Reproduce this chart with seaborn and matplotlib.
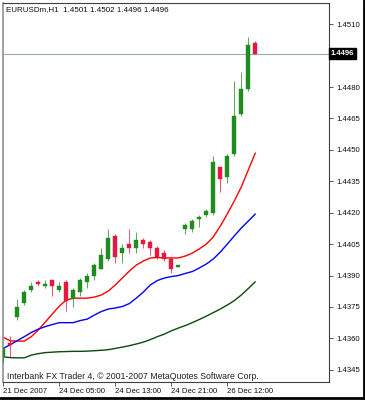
import numpy as np
import pandas as pd
import matplotlib
matplotlib.use("Agg")
import matplotlib.pyplot as plt
from matplotlib.lines import Line2D
import seaborn as sns

# ---- data (EURUSDm, H1) ----
opens = [1.4351, 1.4358, 1.4370, 1.4377, 1.4383, 1.4387, 1.4385, 1.4388, 1.4383, 1.4387,
         1.4379, 1.4382, 1.4387, 1.4390, 1.4393, 1.4398, 1.4409, 1.4401, 1.4405, 1.4403,
         1.4407, 1.4406, 1.4403, 1.4401, 1.4398, 1.4394, 1.4412, 1.4412, 1.4417, 1.4419,
         1.4420, 1.4442, 1.4437, 1.4448, 1.4467, 1.4479, 1.4501]
highs = [1.4356, 1.4361, 1.4379, 1.4383, 1.4387, 1.4388, 1.4388, 1.4388, 1.4387, 1.4388,
         1.4384, 1.4389, 1.4391, 1.4396, 1.4403, 1.4412, 1.4410, 1.4405, 1.4412, 1.4411,
         1.4408, 1.4407, 1.4404, 1.4402, 1.4399, 1.4395, 1.4415, 1.4417, 1.4419, 1.4422,
         1.4447, 1.4442, 1.4448, 1.4483, 1.4487, 1.4504, 1.4502]
lows = [1.4348, 1.4351, 1.4369, 1.4376, 1.4382, 1.4385, 1.4384, 1.4380, 1.4382, 1.4373,
        1.4375, 1.4380, 1.4384, 1.4388, 1.4393, 1.4397, 1.4396, 1.4396, 1.4401, 1.4401,
        1.4403, 1.4400, 1.4398, 1.4397, 1.4391, 1.4394, 1.4410, 1.4411, 1.4413, 1.4418,
        1.4419, 1.4430, 1.4434, 1.4447, 1.4466, 1.4478, 1.4496]
closes = [1.4355, 1.4357, 1.4375, 1.4382, 1.4385, 1.4386, 1.4386, 1.4385, 1.4385, 1.4378,
          1.4383, 1.4388, 1.4390, 1.4395, 1.4400, 1.4408, 1.4399, 1.4403, 1.4403, 1.4407,
          1.4405, 1.4403, 1.4399, 1.4398, 1.4393, 1.4395, 1.4414, 1.4416, 1.4418, 1.4421,
          1.4444, 1.4436, 1.4447, 1.4466, 1.4479, 1.4500, 1.4496]

ma_red = [1.43605, 1.43588, 1.43587, 1.43587, 1.43608, 1.43640, 1.43678, 1.43716, 1.43754, 1.43783,
          1.43792, 1.43792, 1.43792, 1.43797, 1.43807, 1.43826, 1.43855, 1.43888, 1.43921, 1.43950,
          1.43969, 1.43984, 1.43986, 1.43984, 1.43984, 1.43984, 1.43993, 1.44007, 1.44027, 1.44050,
          1.44084, 1.44136, 1.44194, 1.44256, 1.44323, 1.44404, 1.44485]
ma_blue = [1.43552, 1.43570, 1.43589, 1.43608, 1.43628, 1.43644, 1.43656, 1.43666, 1.43675, 1.43675,
           1.43675, 1.43685, 1.43692, 1.43711, 1.43728, 1.43740, 1.43745, 1.43752, 1.43766, 1.43792,
           1.43821, 1.43855, 1.43876, 1.43888, 1.43895, 1.43900, 1.43910, 1.43919, 1.43936, 1.43955,
           1.43979, 1.44012, 1.44050, 1.44089, 1.44127, 1.44160, 1.44194]
ma_green = [1.43512, 1.43508, 1.43507, 1.43507, 1.43520, 1.43527, 1.43532, 1.43534, 1.43536, 1.43537,
            1.43538, 1.43538, 1.43539, 1.43541, 1.43543, 1.43546, 1.43552, 1.43558, 1.43565, 1.43573,
            1.43582, 1.43594, 1.43608, 1.43620, 1.43636, 1.43649, 1.43661, 1.43675, 1.43690, 1.43706,
            1.43723, 1.43740, 1.43759, 1.43780, 1.43807, 1.43838, 1.43870]

x_tick_pos = [0, 8, 16, 24, 32]
x_tick_labels = ["21 Dec 2007", "24 Dec 05:00", "24 Dec 13:00", "24 Dec 21:00", "26 Dec 12:00"]
y_ticks = [1.4345, 1.4360, 1.4375, 1.4390, 1.4405, 1.4420, 1.4435, 1.4450, 1.4465, 1.4480, 1.4510]
last_price = 1.4496
title = "EURUSDm,H1  1.4501 1.4502 1.4496 1.4496"
credit = "Interbank FX Trader 4, \u00a9 2001-2007 MetaQuotes Software Corp."

# ---- styling ----
sns.set_theme(style="white")
plt.rcParams["font.family"] = ["Liberation Sans", "DejaVu Sans"]

W, H = 365, 400
fig = plt.figure(figsize=(W / 100, H / 100), dpi=100)
ax = fig.add_axes([2.7 / W, 1 - 381.7 / H, (328.7 - 2.7) / W, (381.7 - 2.7) / H])
ax.set_facecolor("white")

n = len(opens)
idx = np.arange(n)
df = pd.DataFrame({"i": idx, "red": ma_red, "blue": ma_blue, "green": ma_green})

sns.lineplot(data=df, x="i", y="red", ax=ax, color="#ff0000", lw=1.0, zorder=2)
sns.lineplot(data=df, x="i", y="blue", ax=ax, color="#0000ff", lw=1.0, zorder=2)
sns.lineplot(data=df, x="i", y="green", ax=ax, color="#0b4a0b", lw=1.0, zorder=2)

up_col, dn_col = "#1e8c1e", "#e8173f"
for i in range(n):
    o, h, l, c = opens[i], highs[i], lows[i], closes[i]
    col = up_col if c >= o else dn_col
    ax.vlines(i, l, h, color=col, lw=0.7, alpha=0.75, zorder=3)
    ax.bar(i, max(abs(c - o), 0.00005), bottom=min(o, c), width=0.58,
           color=col, edgecolor=col, lw=0.3, zorder=4)

# current price line
ax.axhline(last_price, color="#9aabbb", lw=0.8, zorder=1)

ax.set_xlim(-0.086, 46.49)
ax.set_ylim(1.43393, 1.45203)

ax.yaxis.tick_right()
ax.set_yticks(y_ticks)
ax.set_yticklabels([f"{v:.4f}" for v in y_ticks])
ax.set_xticks(x_tick_pos)
ax.set_xticklabels(x_tick_labels, ha="left")
ax.tick_params(axis="y", which="both", right=True, left=False, length=3, width=0.6,
               color="#404040", labelsize=5.6, pad=2.5, labelcolor="#111111")
ax.tick_params(axis="x", which="both", bottom=True, length=3, width=0.6,
               color="#404040", labelsize=5.6, pad=1.5, labelcolor="#111111")
ax.set_xlabel("")
ax.set_ylabel("")
for s in ["top", "right", "bottom"]:
    ax.spines[s].set_color("#404040")
    ax.spines[s].set_linewidth(0.8)
ax.spines["left"].set_color("#909090")
ax.spines["left"].set_linewidth(1.2)

# texts
ax.text(0.011, 0.983, title, transform=ax.transAxes, fontsize=5.8, va="center", ha="left",
        color="#111111")
ax.text(0.012, 0.014, credit, transform=ax.transAxes, fontsize=6.3, va="center", ha="left",
        color="#222222")

# last price box
trans = ax.get_yaxis_transform()
ax.text(1.006, last_price, f"{last_price:.4f}", transform=trans, fontsize=5.6, va="center",
        ha="left", color="white", fontweight="bold",
        bbox=dict(boxstyle="square,pad=0.25", fc="black", ec="black"), clip_on=False, zorder=6)

# outer frame (right and bottom)
fig.add_artist(Line2D([1 - 1.5 / W, 1 - 1.5 / W], [0, 1], color="black", lw=2.0,
                      transform=fig.transFigure))
fig.add_artist(Line2D([0, 1], [2.5 / H, 2.5 / H], color="black", lw=2.0,
                      transform=fig.transFigure))

fig.savefig("out.png", dpi=100)
